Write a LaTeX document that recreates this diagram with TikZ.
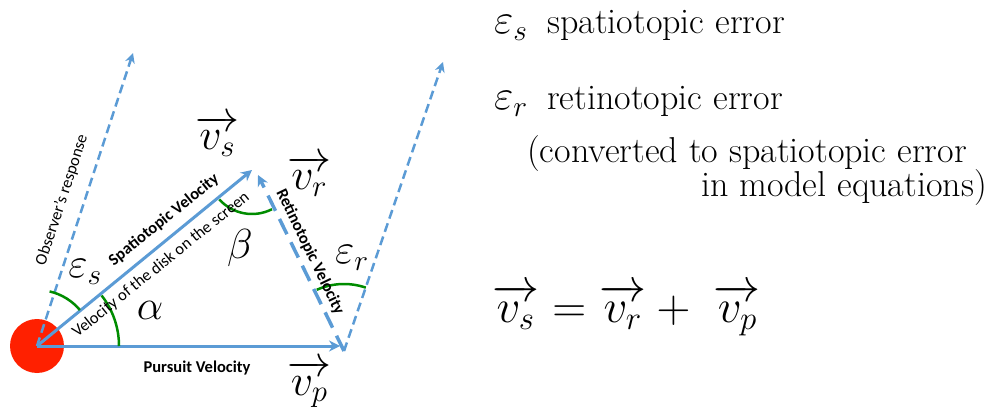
\RequirePackage{fix-cm}
\documentclass[tikz,border=0pt]{standalone}
\usepackage{amsmath}
\usepackage{fontspec}
\usetikzlibrary{arrows.meta}
\newfontfamily\calibrifont{Carlito}
\definecolor{lineblue}{RGB}{91,155,213}
\definecolor{arcgreen}{RGB}{0,140,0}
\definecolor{diskred}{RGB}{255,32,0}
\begin{document}
\begin{tikzpicture}[x=1pt,y=1pt,
  vecline/.style={draw=lineblue, line width=3pt, -{Stealth[length=11pt,width=11pt]}},
  obsline/.style={draw=lineblue, line width=2.5pt, dash pattern=on 9pt off 5pt, -{Stealth[length=10pt,width=10pt]}},
  retline/.style={draw=lineblue, line width=3.5pt, dash pattern=on 17pt off 9pt, -{Stealth[length=11pt,width=11pt]}},
  arcg/.style={draw=arcgreen, line width=2.5pt},
  lbl/.style={font=\calibrifont\fontsize{16.5}{19}\selectfont, inner sep=0pt},
  blbl/.style={font=\calibrifont\bfseries\fontsize{16.5}{19}\selectfont, inner sep=0pt},
  mathlbl/.style={font=\fontsize{44}{50}\selectfont, inner sep=0pt},
  anglbl/.style={font=\fontsize{42}{48}\selectfont, inner sep=0pt},
  rtext/.style={font=\fontsize{36}{42}\selectfont, inner sep=0pt},
  rmath/.style={font=\fontsize{42}{48}\selectfont, inner sep=0pt}]
\useasboundingbox (0,0) rectangle (990,410);
% key points
\coordinate (O) at (37,64);
\coordinate (P) at (340,64);
\coordinate (S) at (252,240);
\coordinate (R) at (258,235);
\coordinate (V) at (344,59);
\coordinate (Ob) at (133,357);
\coordinate (Rt) at (443,348);
% disk
\node[circle, fill=diskred, minimum size=54pt, inner sep=0pt] (disk) at (O) {};
% vectors
\draw[obsline] (O) -- (Ob);
\draw[obsline] (V) -- (Rt);
\draw[vecline] (O) -- (P);
\draw[vecline] (O) -- (S);
\draw[retline] (V) -- (R);
% angle arcs
\draw[arcg] ([shift={(40:56)}]O) arc[start angle=40, end angle=77, radius=56];
\draw[arcg] ([shift={(0:82)}]O) arc[start angle=0, end angle=38, radius=82];
\draw[arcg] ([shift={(222:44)}]S) arc[start angle=222, end angle=297, radius=44];
\draw[arcg] ([shift={(71:67)}]V) arc[start angle=71, end angle=114, radius=67];
% line labels
\node[lbl, rotate=71.8] (obsl) at (62,210) {Observer’s response};
\node[blbl, rotate=38.8] (spl) at (164,190) {Spatiotopic Velocity};
\node[lbl, rotate=38.8] (dskl) at (161,145) {Velocity of the disk on the screen};
\node[blbl, rotate=-64.2] (retl) at (310,158) {Retinotopic Velocity};
\node[blbl] (purl) at (197,42) {Pursuit Velocity};
% math labels
\node[anglbl] (eps) at (85,138) {$\varepsilon_s$};
\node[anglbl] (alpha) at (150,100) {$\alpha$};
\node[anglbl] (beta) at (240,162) {$\beta$};
\node[anglbl] (epr) at (352,152) {$\varepsilon_r$};
\node[mathlbl, anchor=base west] (vs) at (195,260) {$\overrightarrow{v_s}$};
\node[mathlbl, anchor=base west] (vr) at (287,220) {$\overrightarrow{v_r}$};
\node[mathlbl, anchor=base west] (vp) at (287,15) {$\overrightarrow{v_p}$};
% legend
\node[rmath, anchor=base west] (les) at (494,376) {$\varepsilon_s$};
\node[rtext, anchor=base west] (lest) at (547,376) {spatiotopic error};
\node[rmath, anchor=base west] (ler) at (494,300) {$\varepsilon_r$};
\node[rtext, anchor=base west] (lert) at (547,300) {retinotopic error};
\node[rtext, anchor=base west] (conv) at (527,247) {(converted to spatiotopic error};
\node[rtext, anchor=base east] (model) at (987,213) {in model equations)};
% equation
\node[font=\fontsize{47}{54}\selectfont, inner sep=0pt, anchor=base west] (eq) at (492,88)
  {$\overrightarrow{v_s} = \overrightarrow{v_r} + \;\overrightarrow{v_p}$};
\end{tikzpicture}
\end{document}
